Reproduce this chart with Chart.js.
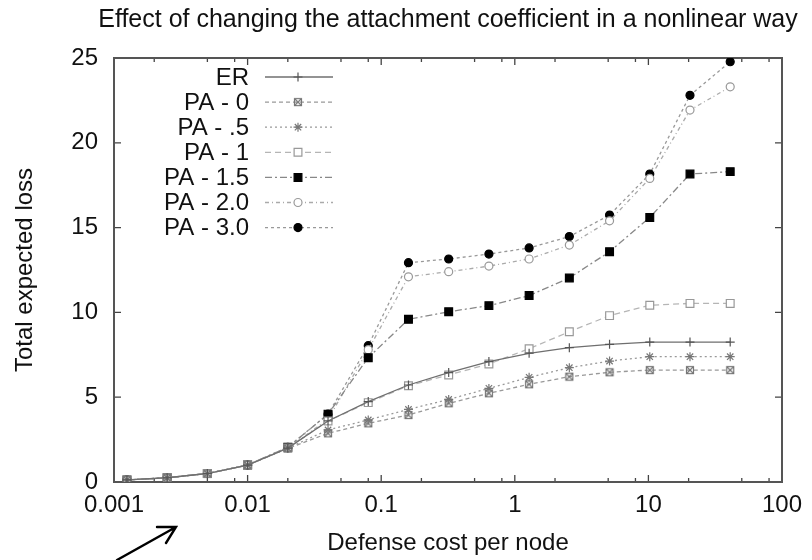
<!DOCTYPE html>
<html>
<head>
<meta charset="utf-8">
<script src="https://cdn.jsdelivr.net/npm/chart.js@4.4.1/dist/chart.umd.min.js"></script>
<style>
  html, body { margin: 0; padding: 0; background: #fff; }
  #lossChart { display: block; }
</style>
</head>
<body>
<canvas id="lossChart" width="812" height="560"></canvas>
<script>
// defense cost per node (doubling steps)
var costs = [0.00125, 0.0025, 0.005, 0.01, 0.02, 0.04, 0.08, 0.16, 0.32, 0.64, 1.28, 2.56, 5.12, 10.24, 20.48, 40.96];

// total expected loss for each network model
var lossER   = [0.12, 0.25, 0.5, 1.0, 2.0, 3.6, 4.74, 5.72, 6.45, 7.1, 7.59, 7.92, 8.12, 8.25, 8.25, 8.25];
var lossPA0  = [0.12, 0.25, 0.5, 1.0, 1.98, 2.87, 3.46, 3.95, 4.64, 5.23, 5.76, 6.21, 6.47, 6.6, 6.6, 6.6];
var lossPA05 = [0.12, 0.25, 0.5, 1.0, 2.0, 3.07, 3.66, 4.28, 4.87, 5.52, 6.17, 6.74, 7.13, 7.39, 7.39, 7.39];
var lossPA1  = [0.12, 0.25, 0.5, 1.0, 2.0, 3.6, 4.68, 5.68, 6.31, 6.96, 7.86, 8.86, 9.81, 10.42, 10.53, 10.53];
var lossPA15 = [0.12, 0.25, 0.5, 1.0, 2.05, 4.0, 7.33, 9.59, 10.04, 10.4, 10.99, 12.03, 13.58, 15.6, 18.16, 18.3];
var lossPA2  = [0.12, 0.25, 0.5, 1.0, 2.0, 3.7, 7.8, 12.1, 12.4, 12.73, 13.15, 13.97, 15.4, 17.9, 21.93, 23.3];
var lossPA3  = [0.12, 0.25, 0.5, 1.0, 2.05, 4.0, 8.04, 12.93, 13.15, 13.44, 13.8, 14.47, 15.74, 18.16, 22.8, 24.78];

var seriesNames = ['ER', 'PA - 0', 'PA - .5', 'PA - 1', 'PA - 1.5', 'PA - 2.0', 'PA - 3.0'];
var xTickValues = [0.001, 0.01, 0.1, 1, 10, 100];
var xMinorSteps = [2, 5, 8];
var yTickValues = [0, 5, 10, 15, 20, 25];
var chartTitle = 'Effect of changing the attachment coefficient in a nonlinear way';

var FONT = '"Liberation Sans", Arial, Helvetica, sans-serif';

// square with a cross inside, used for PA - 0
function boxCross(size, color) {
    var c = document.createElement('canvas');
    c.width = size; c.height = size;
    var g = c.getContext('2d');
    g.strokeStyle = color;
    g.lineWidth = 1.2;
    g.strokeRect(1.5, 1.5, size - 3, size - 3);
    g.beginPath();
    g.moveTo(1.5, 1.5); g.lineTo(size - 1.5, size - 1.5);
    g.moveTo(size - 1.5, 1.5); g.lineTo(1.5, size - 1.5);
    g.stroke();
    return c;
}

function toPoints(values) {
    return values.map(function (v, i) { return { x: costs[i], y: v }; });
}

var styles = [
    { line: '#6f6f6f', dash: [], point: 'cross', r: 4.5, fill: '#555', edge: '#555' },
    { line: '#999', dash: [4, 3], point: boxCross(10, '#777'), r: 5, fill: '#777', edge: '#777' },
    { line: '#999', dash: [2, 3], point: 'star', r: 4.5, fill: '#777', edge: '#777' },
    { line: '#b5b5b5', dash: [6, 4], point: 'rect', r: 5.5, fill: '#fff', edge: '#999' },
    { line: '#888', dash: [7, 3, 2, 3], point: 'rect', r: 5.5, fill: '#000', edge: '#000' },
    { line: '#aaa', dash: [4, 3, 1, 3], point: 'circle', r: 4, fill: '#fff', edge: '#999' },
    { line: '#999', dash: [3, 3], point: 'circle', r: 4, fill: '#000', edge: '#000' }
];
var seriesValues = [lossER, lossPA0, lossPA05, lossPA1, lossPA15, lossPA2, lossPA3];

var datasets = seriesNames.map(function (name, i) {
    var s = styles[i];
    return {
        label: name,
        data: toPoints(seriesValues[i]),
        borderColor: s.line,
        borderWidth: 1.3,
        borderDash: s.dash,
        pointStyle: s.point,
        pointRadius: s.r,
        pointBackgroundColor: s.fill,
        pointBorderColor: s.edge,
        pointBorderWidth: 1.2,
        tension: 0,
        fill: false
    };
});

// heading centred over the plot, free to run wider than the plot itself
var headline = {
    id: 'headline',
    afterDraw: function (chart) {
        var a = chart.chartArea, ctx = chart.ctx;
        ctx.save();
        ctx.font = '25px ' + FONT;
        ctx.fillStyle = '#111';
        ctx.textAlign = 'center';
        ctx.textBaseline = 'alphabetic';
        ctx.fillText(chartTitle, (a.left + a.right) / 2, 27);
        ctx.restore();
    }
};

// gnuplot-like frame with inward ticks on all four sides
var frameTicks = {
    id: 'frameTicks',
    beforeDatasetsDraw: function (chart) {
        var a = chart.chartArea, ctx = chart.ctx;
        var xs = chart.scales.x, ys = chart.scales.y;
        ctx.save();
        ctx.strokeStyle = '#444';
        ctx.lineWidth = 1.3;
        ctx.beginPath();
        xTickValues.forEach(function (v) {
            var px = xs.getPixelForValue(v);
            ctx.moveTo(px, a.bottom); ctx.lineTo(px, a.bottom - 7);
            ctx.moveTo(px, a.top); ctx.lineTo(px, a.top + 7);
        });
        xTickValues.slice(0, -1).forEach(function (d) {
            xMinorSteps.forEach(function (m) {
                var px = xs.getPixelForValue(d * m);
                ctx.moveTo(px, a.bottom); ctx.lineTo(px, a.bottom - 4);
                ctx.moveTo(px, a.top); ctx.lineTo(px, a.top + 4);
            });
        });
        yTickValues.forEach(function (v) {
            var py = ys.getPixelForValue(v);
            ctx.moveTo(a.left, py); ctx.lineTo(a.left + 7, py);
            ctx.moveTo(a.right, py); ctx.lineTo(a.right - 7, py);
        });
        ctx.stroke();
        ctx.lineWidth = 2;
        ctx.strokeStyle = '#555';
        ctx.strokeRect(a.left, a.top, a.right - a.left, a.bottom - a.top);
        ctx.restore();
    }
};

// key in the upper left: right-aligned names, then a line sample with its marker
var keyBox = {
    id: 'keyBox',
    afterDatasetsDraw: function (chart) {
        var a = chart.chartArea, ctx = chart.ctx;
        ctx.save();
        ctx.font = '24px ' + FONT;
        ctx.textAlign = 'right';
        ctx.textBaseline = 'middle';
        chart.data.datasets.forEach(function (ds, i) {
            var y = a.top + 19 + i * 25.1;
            ctx.fillStyle = '#111';
            ctx.fillText(ds.label, a.left + 135, y + 1);
            ctx.beginPath();
            ctx.setLineDash(ds.borderDash);
            ctx.strokeStyle = ds.borderColor;
            ctx.lineWidth = ds.borderWidth;
            ctx.moveTo(a.left + 151, y);
            ctx.lineTo(a.left + 219, y);
            ctx.stroke();
            ctx.setLineDash([]);
            ctx.fillStyle = ds.pointBackgroundColor;
            ctx.strokeStyle = ds.pointBorderColor;
            ctx.lineWidth = ds.pointBorderWidth;
            Chart.helpers.drawPoint(ctx, {
                pointStyle: ds.pointStyle, radius: ds.pointRadius, rotation: 0, borderWidth: ds.pointBorderWidth
            }, a.left + 184, y);
        });
        ctx.restore();
    }
};

// small pointer drawn below the axis
var pointer = {
    id: 'pointer',
    afterDraw: function (chart) {
        var ctx = chart.ctx;
        ctx.save();
        ctx.strokeStyle = '#000';
        ctx.lineWidth = 2.4;
        ctx.lineCap = 'round';
        ctx.beginPath();
        ctx.moveTo(117, 560); ctx.lineTo(176, 527);
        ctx.moveTo(157, 527); ctx.lineTo(176, 527); ctx.lineTo(166, 543);
        ctx.stroke();
        ctx.restore();
    }
};

var ctx = document.getElementById('lossChart').getContext('2d');
var lossChart = new Chart(ctx, {
    type: 'line',
    data: { datasets: datasets },
    options: {
        responsive: false,
        animation: false,
        layout: { padding: { left: 0, right: 30, top: 58, bottom: 0 } },
        plugins: {
            legend: { display: false },
            tooltip: { enabled: false },
            title: { display: false }
        },
        scales: {
            x: {
                type: 'logarithmic',
                min: 0.001,
                max: 100,
                afterBuildTicks: function (scale) {
                    scale.ticks = xTickValues.map(function (v) { return { value: v }; });
                },
                afterFit: function (scale) { scale.height = 78; },
                grid: { display: false },
                border: { display: false },
                ticks: {
                    color: '#111',
                    font: { family: FONT, size: 24 },
                    padding: 1,
                    maxRotation: 0,
                    autoSkip: false,
                    callback: function (value) { return String(value); }
                },
                title: {
                    display: true,
                    text: 'Defense cost per node',
                    color: '#111',
                    font: { family: FONT, size: 24 },
                    padding: { top: 0, bottom: 2.6 }
                }
            },
            y: {
                min: 0,
                max: 25,
                afterBuildTicks: function (scale) {
                    scale.ticks = yTickValues.map(function (v) { return { value: v }; });
                },
                afterFit: function (scale) { scale.width = 114; },
                grid: { display: false },
                border: { display: false },
                ticks: {
                    color: '#111',
                    font: { family: FONT, size: 24 },
                    padding: 8
                },
                title: {
                    display: true,
                    text: 'Total expected loss',
                    color: '#111',
                    font: { family: FONT, size: 24 },
                    padding: { top: 10.6, bottom: 0 }
                }
            }
        }
    },
    plugins: [headline, frameTicks, keyBox, pointer]
});
</script>
</body>
</html>
